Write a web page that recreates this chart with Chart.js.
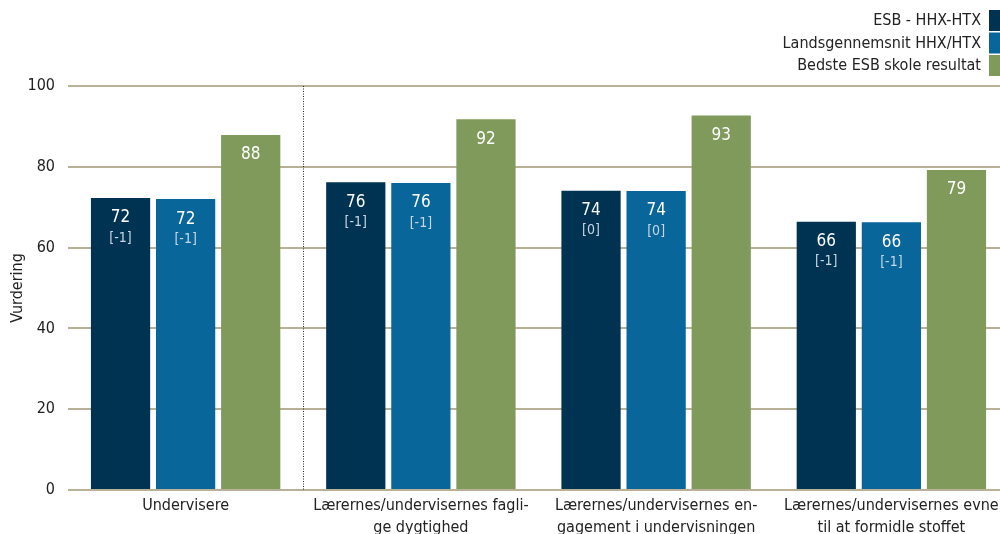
<!DOCTYPE html>
<html>
<head>
<meta charset="utf-8">
<script src="https://cdn.jsdelivr.net/npm/chart.js@4"></script>
<style>
  html,body{margin:0;padding:0;background:#fff;overflow:hidden;}
  #wrap{position:relative;width:1009px;height:534px;}
</style>
</head>
<body>
<div id="wrap"><canvas id="c"></canvas></div>
<script>
// Data
const categories = [
  'Undervisere',
  ['Lærernes/undervisernes fagli-', 'ge dygtighed'],
  ['Lærernes/undervisernes en-', 'gagement i undervisningen'],
  ['Lærernes/undervisernes evne', 'til at formidle stoffet']
];
const seriesNames = ['ESB - HHX-HTX', 'Landsgennemsnit HHX/HTX', 'Bedste ESB skole resultat'];
const esbValues   = [72.3, 76.2, 74.1, 66.4];
const landsValues = [72.0, 76.0, 74.0, 66.3];
const bestValues  = [87.9, 91.8, 92.7, 79.2];
const esbChange   = ['[-1]', '[-1]', '[0]', '[-1]'];
const landsChange = ['[-1]', '[-1]', '[0]', '[-1]'];
const yTicks = [0, 20, 40, 60, 80, 100];

const colors = ['#003352', '#08669a', '#7f9a5a'];
const FONT = '"DejaVu Sans Condensed", "DejaVu Sans", sans-serif';

Chart.defaults.font.family = FONT;
Chart.defaults.color = '#222';

// tekst i søjler + stiplet linje + legende
const overlay = {
  id: 'overlay',
  afterDatasetsDraw(chart){
    const ctx = chart.ctx;
    const changes = [esbChange, landsChange, null];
    chart.data.datasets.forEach((ds, di) => {
      const meta = chart.getDatasetMeta(di);
      meta.data.forEach((bar, i) => {
        ctx.save();
        ctx.textAlign = 'center';
        ctx.textBaseline = 'middle';
        ctx.fillStyle = '#ffffff';
        ctx.font = '17px ' + FONT;
        ctx.fillText(Math.round(ds.data[i]), bar.x, bar.y + 20);
        if (changes[di]){
          ctx.fillStyle = '#c9d6e3';
          ctx.font = '14px ' + FONT;
          ctx.fillText(changes[di][i], bar.x, bar.y + 40);
        }
        ctx.restore();
      });
    });
    // stiplet skillelinje
    const xs = chart.scales.x, ys = chart.scales.y;
    const sx = Math.round((xs.getPixelForValue(0) + xs.getPixelForValue(1)) / 2) + 0.5;
    ctx.save();
    ctx.strokeStyle = '#222';
    ctx.lineWidth = 1;
    ctx.setLineDash([1, 1.5]);
    ctx.beginPath();
    ctx.moveTo(sx, ys.getPixelForValue(100));
    ctx.lineTo(sx, ys.getPixelForValue(0));
    ctx.stroke();
    ctx.restore();
  },
  afterDraw(chart){
    const ctx = chart.ctx;
    ctx.save();
    ctx.font = '16px ' + FONT;
    ctx.textAlign = 'right';
    ctx.textBaseline = 'middle';
    chart.data.datasets.forEach((ds, i) => {
      const top = 10 + i * 22.5;
      ctx.fillStyle = ds.backgroundColor;
      ctx.fillRect(989, top, 12, 21);
      ctx.fillStyle = '#222';
      ctx.fillText(ds.label, 981, top + 11);
    });
    ctx.restore();
  }
};

new Chart(document.getElementById('c'), {
  type: 'bar',
  data: {
    labels: categories,
    datasets: [
      { label: seriesNames[0], data: esbValues,   backgroundColor: colors[0] },
      { label: seriesNames[1], data: landsValues, backgroundColor: colors[1] },
      { label: seriesNames[2], data: bestValues,  backgroundColor: colors[2] }
    ]
  },
  options: {
    responsive: true,
    maintainAspectRatio: false,
    animation: false,
    layout: { padding: { top: 86, right: 0, left: 6, bottom: 0 } },
    datasets: { bar: { categoryPercentage: 0.83, barPercentage: 0.91 } },
    plugins: { legend: { display: false }, tooltip: { enabled: false } },
    scales: {
      x: {
        afterFit: (s) => { s.height = 44; },
        grid: { display: false, drawTicks: false },
        border: { display: false },
        ticks: { font: { size: 16, lineHeight: 1.35 }, color: '#222', maxRotation: 0, autoSkip: false, padding: 5 }
      },
      y: {
        min: 0, max: 100,
        afterFit: (s) => { s.width = 62; },
        afterBuildTicks: (s) => { s.ticks = yTicks.map(v => ({ value: v })); },
        grid: { color: '#b9b197', lineWidth: 2, drawTicks: false },
        border: { display: false },
        ticks: { font: { size: 16 }, color: '#222', padding: 13 },
        title: { display: true, text: 'Vurdering', font: { size: 16 }, color: '#222', padding: { top: 2, bottom: 0 } }
      }
    }
  },
  plugins: [overlay]
});
</script>
</body>
</html>
